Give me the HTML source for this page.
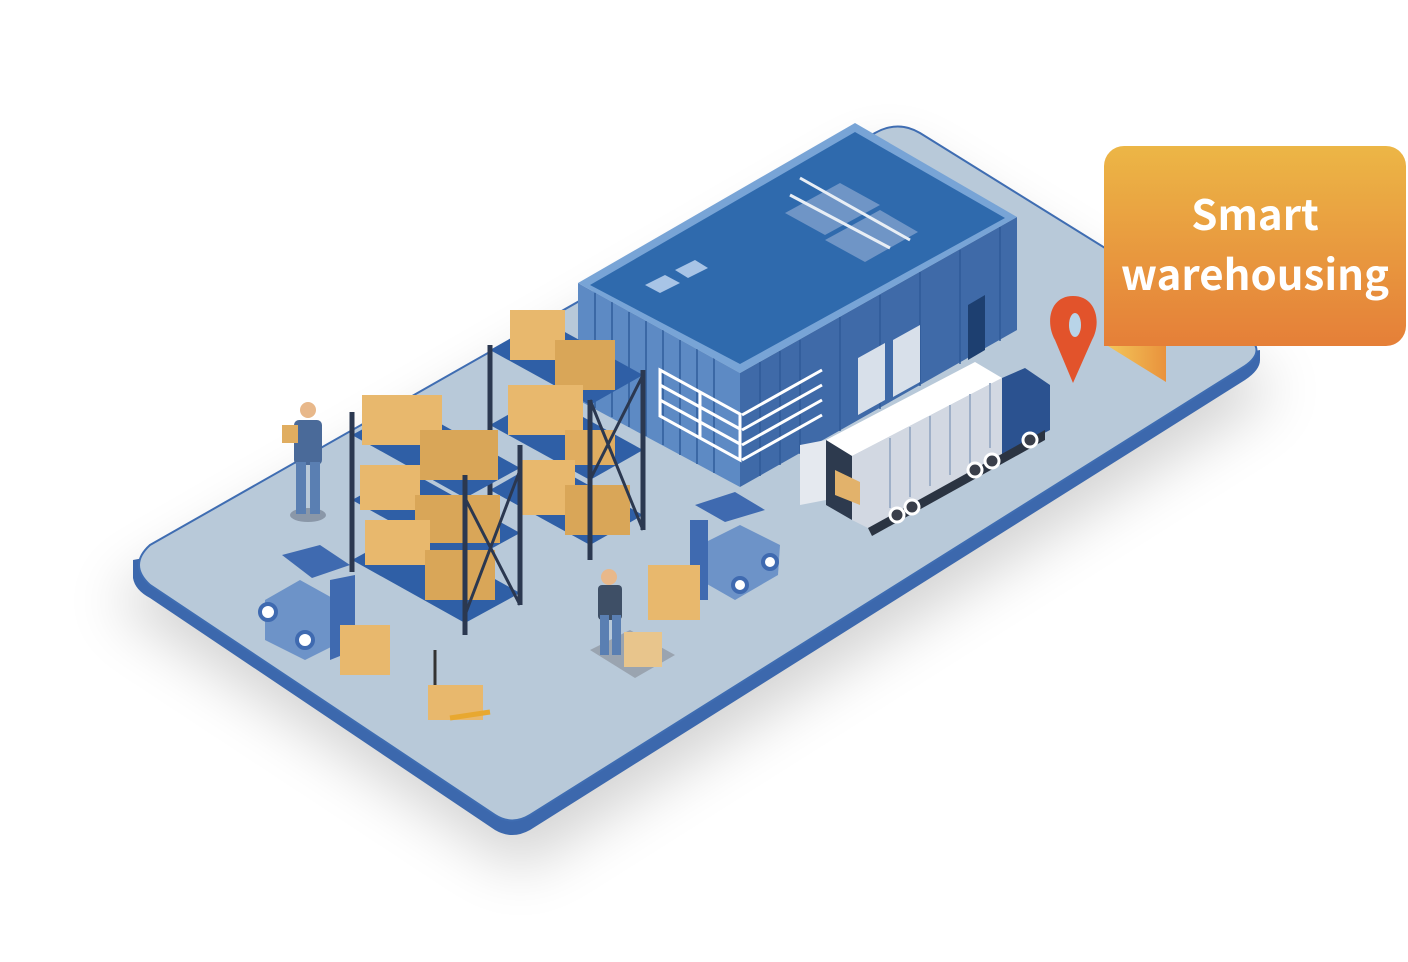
<!DOCTYPE html>
<html><head><meta charset="utf-8"><style>
html,body{margin:0;padding:0;background:#fff;}
body{width:1408px;height:962px;position:relative;overflow:hidden;font-family:"Liberation Sans",sans-serif;}
.lab{position:absolute;left:1104px;top:146px;width:302px;height:200px;border-radius:20px 20px 20px 0;background:linear-gradient(#ecb646,#e57f38);color:#fff;font-weight:bold;font-size:42px;text-align:center;line-height:60px;box-sizing:border-box;padding-top:37px;font-family:"Noto Sans CJK SC","Liberation Sans",sans-serif;}
</style></head><body>
<svg width="1408" height="962" viewBox="0 0 1408 962" style="position:absolute;left:0;top:0">
<defs>
<filter id="sh" x="-30%" y="-30%" width="160%" height="160%"><feGaussianBlur stdDeviation="30"/></filter>
<linearGradient id="rb" x1="0" x2="1"><stop offset="0" stop-color="#f3c65a"/><stop offset="1" stop-color="#e9923c"/></linearGradient>
</defs>
<path d="M110 600 L520 870 L1280 390 L890 150 Z" fill="#000" opacity="0.17" filter="url(#sh)"/>
<path d="M133 560 L133 578 Q135 590 150 598 L495 830 Q512 840 530 830 L1245 380 Q1260 370 1260 360 L1260 350 Z" fill="#3c68ad"/>
<path d="M150 545 L875 133 Q898 120 920 133 L1245 335 Q1268 350 1245 366 L530 815 Q512 826 495 815 L150 585 Q128 565 150 545 Z" fill="#b8c9d9" stroke="#3f6db2" stroke-width="2"/>
<path d="M578 283 L740 373 L740 487 L578 400 Z" fill="#5d8ac4"/>
<path d="M740 373 L1017 217 L1017 330 L740 487 Z" fill="#3f6aa8"/>
<g stroke="#2e5a98" stroke-width="2" opacity="0.7">
<path d="M595 293v115M612 302v115M629 312v115M646 321v115M663 330v115M680 340v115M697 349v115M714 358v115"/>
<path d="M760 362v114M780 351v114M800 340v114M840 317v114M880 295v114M920 272v114M960 250v114M1000 227v114"/>
</g>
<path d="M660 370 L740 414 L740 460 L660 416 Z" fill="none" stroke="#fff" stroke-width="3"/>
<path d="M660 385 L740 429 M660 400 L740 444 M700 392 L700 438" stroke="#fff" stroke-width="3"/>
<path d="M742 415 L822 370 M742 430 L822 385 M742 445 L822 400 M742 460 L822 415" stroke="#fff" stroke-width="3"/>
<path d="M858 358 L885 343 L885 400 L858 415 Z" fill="#d8e0ea"/>
<path d="M893 340 L920 325 L920 382 L893 397 Z" fill="#d8e0ea"/>
<path d="M968 305 L985 295 L985 350 L968 360 Z" fill="#1d3f70"/>
<path d="M578 283 L855 123 L1017 217 L740 373 Z" fill="#78a4d6"/>
<path d="M590 285 L855 132 L1005 218 L740 364 Z" fill="#2f6aad"/>
<path d="M785 213 L840 183 L880 205 L825 235 Z M825 240 L880 210 L918 232 L865 262 Z" fill="#6f95c6"/>
<path d="M800 178 L910 240 M790 195 L890 248" stroke="#e8eef5" stroke-width="3"/>
<path d="M645 285 L665 275 L680 283 L660 293 Z M675 270 L695 260 L708 268 L688 278 Z" fill="#a8c4e6"/>
<path d="M826 440 L975 362 L1002 378 L852 456 Z" fill="#fff"/>
<path d="M852 456 L1002 378 L1002 455 L868 528 L852 520 Z" fill="#d2d8e2"/>
<g stroke="#9fb0c8" stroke-width="2"><path d="M890 438v70M910 427v70M930 416v70M950 405v70M970 394v70M990 383v65"/></g>
<path d="M826 440 L852 456 L852 520 L826 505 Z" fill="#2d3a4e"/>
<path d="M835 470 L860 482 L860 505 L835 495 Z" fill="#e2b26b"/>
<path d="M800 445 L826 440 L826 500 L800 505 Z" fill="#e5e9ef"/>
<path d="M1002 378 L1025 368 L1050 385 L1050 430 L1002 455 Z" fill="#2b5290"/>
<path d="M868 528 L1045 430 L1045 440 L872 536 Z" fill="#2b3442"/>
<g fill="#3a3f4a" stroke="#fff" stroke-width="3"><circle cx="897" cy="515" r="7"/><circle cx="912" cy="507" r="7"/><circle cx="975" cy="470" r="7"/><circle cx="992" cy="461" r="7"/><circle cx="1030" cy="440" r="7"/></g>
<path d="M1073 296 C1050 296 1045 322 1055 340 L1073 383 L1092 340 C1102 322 1096 296 1073 296 Z" fill="#e2532b"/>
<ellipse cx="1075" cy="325" rx="6" ry="12" fill="#b8d4e8"/>
<path d="M1108 346 L1166 346 L1166 382 Z" fill="url(#rb)"/>
<g>
<path d="M490 350 L590 405 L643 375 L543 320 Z" fill="#2f5fa6"/>
<path d="M490 425 L590 480 L643 450 L543 395 Z" fill="#2f5fa6"/>
<path d="M490 490 L590 545 L643 515 L543 460 Z" fill="#2f5fa6"/>
<rect x="510" y="310" width="55" height="50" fill="#e8b86d"/><rect x="555" y="340" width="60" height="50" fill="#d9a658"/>
<rect x="508" y="385" width="75" height="50" fill="#e8b86d"/><rect x="565" y="430" width="50" height="35" fill="#e0ad60"/>
<rect x="520" y="460" width="55" height="55" fill="#e8b86d"/><rect x="565" y="485" width="65" height="50" fill="#d9a658"/>
<path d="M490 345v155M590 400v160M643 370v160" stroke="#2b3850" stroke-width="5"/>
<path d="M590 480 L643 375 M590 400 L643 530" stroke="#2b3850" stroke-width="3"/>
</g>
<g>
<path d="M352 435 L465 498 L520 468 L407 405 Z" fill="#2f5fa6"/>
<path d="M352 500 L465 563 L520 533 L407 470 Z" fill="#2f5fa6"/>
<path d="M352 560 L465 623 L520 593 L407 530 Z" fill="#2f5fa6"/>
<rect x="362" y="395" width="80" height="50" fill="#e8b86d"/><rect x="420" y="430" width="78" height="50" fill="#d9a658"/>
<rect x="360" y="465" width="60" height="45" fill="#e8b86d"/><rect x="415" y="495" width="85" height="48" fill="#d9a658"/>
<rect x="365" y="520" width="65" height="45" fill="#e8b86d"/><rect x="425" y="550" width="70" height="50" fill="#d9a658"/>
<path d="M352 412v160M465 475v160M520 445v160" stroke="#2b3850" stroke-width="5"/>
<path d="M465 498 L520 605 M465 615 L520 470" stroke="#2b3850" stroke-width="3"/>
</g>
<ellipse cx="308" cy="515" rx="18" ry="7" fill="#8a97a8"/>
<rect x="294" y="420" width="28" height="45" rx="5" fill="#4a6a99"/>
<rect x="296" y="462" width="10" height="52" fill="#5a7fb2"/><rect x="310" y="462" width="10" height="52" fill="#5a7fb2"/>
<circle cx="308" cy="410" r="8" fill="#e8b88a"/><rect x="282" y="425" width="16" height="18" fill="#e0ad60"/>
<path d="M265 600 L300 580 L345 605 L345 640 L305 660 L265 640 Z" fill="#6d93c8"/>
<path d="M282 555 L320 545 L350 565 L312 578 Z" fill="#3f6ab0"/>
<path d="M330 580 L355 575 L355 650 L330 660 Z" fill="#3f6ab0"/>
<rect x="340" y="625" width="50" height="50" fill="#e8b86d"/>
<circle cx="268" cy="612" r="8" fill="#fff" stroke="#3f6ab0" stroke-width="4"/><circle cx="305" cy="640" r="8" fill="#fff" stroke="#3f6ab0" stroke-width="4"/>
<path d="M700 545 L740 525 L780 545 L778 575 L735 600 L700 580 Z" fill="#6d93c8"/>
<path d="M695 505 L735 492 L765 510 L725 522 Z" fill="#3f6ab0"/>
<rect x="690" y="520" width="18" height="80" fill="#3f6ab0"/>
<rect x="648" y="565" width="52" height="55" fill="#e8b86d"/>
<circle cx="770" cy="562" r="7" fill="#fff" stroke="#3f6ab0" stroke-width="4"/><circle cx="740" cy="585" r="7" fill="#fff" stroke="#3f6ab0" stroke-width="4"/>
<path d="M590 650 L630 630 L675 655 L635 678 Z" fill="#9aa4b0"/>
<rect x="598" y="585" width="24" height="35" rx="4" fill="#3e4f66"/>
<rect x="600" y="615" width="9" height="40" fill="#5a7fb2"/><rect x="612" y="615" width="9" height="40" fill="#5a7fb2"/>
<circle cx="609" cy="577" r="8" fill="#e8b88a"/>
<rect x="624" y="632" width="38" height="35" fill="#e8c58c"/>
<path d="M435 650 L435 695" stroke="#333" stroke-width="3"/>
<rect x="428" y="685" width="55" height="35" fill="#e8b86d"/>
<path d="M450 718 L490 712" stroke="#e8a830" stroke-width="5"/>
</svg>
<div class="lab">Smart<br>warehousing</div>
</body></html>
